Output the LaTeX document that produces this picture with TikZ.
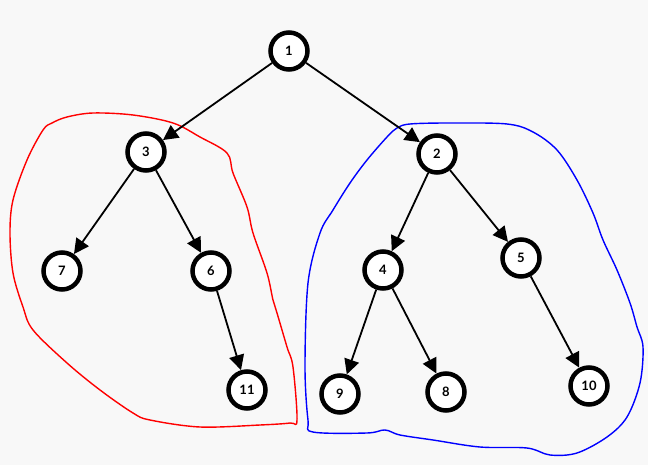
\documentclass[tikz,border=0pt]{standalone}
\usepackage{fontspec}
\setmainfont{Lato}
\usetikzlibrary{arrows.meta}
\definecolor{bg}{HTML}{F8F8F8}
\begin{document}
\begin{tikzpicture}[x=1pt,y=-1pt,
  vtx/.style={circle,draw=black,fill=white,line width=4.5pt,minimum size=37pt,inner sep=0pt,font=\bfseries\fontsize{13}{15}\selectfont},
  edge/.style={line width=1.8pt,-{Triangle[length=15pt,width=15pt]}},
  hull/.style={line width=1.4pt}]
\fill[bg] (0,0) rectangle (648,465);
\useasboundingbox (0,0) rectangle (648,465);
\draw[hull,red] plot[smooth cycle,tension=0.55] coordinates {
 (52,123) (67,117) (93,113) (133,115) (173,123) (200,137) (227,153) (233,173)
 (247,207) (253,233) (267,273) (273,300) (277,313) (287,347) (293,367) (297,420)
 (290,423) (260,425) (200,427) (150,420) (133,413) (100,390) (67,363) (33,330)
 (23,307) (13,273) (10,233) (13,200) (27,160) (43,130)};
\draw[hull,blue] plot[smooth cycle,tension=0.55] coordinates {
 (397,128) (410,124) (450,123) (507,124) (533,132) (557,150) (577,180) (593,213)
 (603,240) (617,270) (630,303) (637,327) (643,347) (640,383) (627,417) (607,437)
 (577,453) (550,455) (527,448) (480,447) (433,440) (400,435) (385,430) (367,433)
 (313,432) (308,420) (305,367) (308,283) (320,233) (333,210) (350,183) (367,160)
 (387,137)};
\node[vtx] (n1) at (289,51) {1};
\node[vtx] (n3) at (146,152) {3};
\node[vtx] (n2) at (437,154) {2};
\node[vtx] (n7) at (62,271) {7};
\node[vtx] (n6) at (211,271) {6};
\node[vtx] (n4) at (383,270) {4};
\node[vtx] (n5) at (521,258) {5};
\node[vtx] (n11) at (247,390) {11};
\node[vtx] (n9) at (340,394) {9};
\node[vtx] (n8) at (446,392) {8};
\node[vtx] (n10) at (589,386) {10};
\draw[edge] (n1) -- (n3);
\draw[edge] (n1) -- (n2);
\draw[edge] (n3) -- (n7);
\draw[edge] (n3) -- (n6);
\draw[edge] (n6) -- (n11);
\draw[edge] (n2) -- (n4);
\draw[edge] (n2) -- (n5);
\draw[edge] (n4) -- (n9);
\draw[edge] (n4) -- (n8);
\draw[edge] (n5) -- (n10);
\end{tikzpicture}
\end{document}
